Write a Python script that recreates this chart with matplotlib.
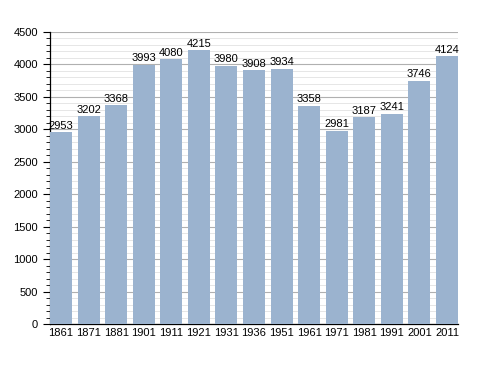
import matplotlib
matplotlib.use("Agg")
import matplotlib.pyplot as plt
from matplotlib.ticker import MultipleLocator

years = ["1861", "1871", "1881", "1901", "1911", "1921", "1931", "1936",
         "1951", "1961", "1971", "1981", "1991", "2001", "2011"]
population = [2953, 3202, 3368, 3993, 4080, 4215, 3980, 3908,
              3934, 3358, 2981, 3187, 3241, 3746, 4124]

plt.rcParams['font.family'] = ['Liberation Sans', 'DejaVu Sans']

fig = plt.figure(figsize=(4.88, 3.73), dpi=100)
ax = fig.add_axes([50 / 488, 1 - 324 / 373, 408 / 488, 292 / 373])

w = 0.8
x = range(len(years))
ax.bar(x, population, width=w, color='#9bb3cf', zorder=3)

for i, v in zip(x, population):
    ax.text(i, v + 25, str(v), ha='center', va='bottom', fontsize=8, zorder=4)

ax.set_xlim(-w / 2, len(years) - 1 + w / 2)
ax.set_ylim(0, 4500)
ax.set_xticks(list(x))
ax.set_xticklabels(years)
ax.yaxis.set_major_locator(MultipleLocator(500))
ax.yaxis.set_minor_locator(MultipleLocator(100))

# grid lines
ax.grid(axis='y', which='major', color='#b0b0b0', linewidth=0.8, zorder=0)
ax.grid(axis='y', which='minor', color='#e2e2e2', linewidth=0.6, zorder=0)
ax.set_axisbelow(True)

for s in ['top', 'right']:
    ax.spines[s].set_visible(False)
ax.spines['left'].set_linewidth(0.9)
ax.spines['bottom'].set_linewidth(0.9)

ax.tick_params(axis='x', length=0, labelsize=8, pad=3)
ax.tick_params(axis='y', which='major', length=5, width=0.8, labelsize=8)
ax.tick_params(axis='y', which='minor', length=3, width=0.6)

fig.savefig("out.png", dpi=100)
